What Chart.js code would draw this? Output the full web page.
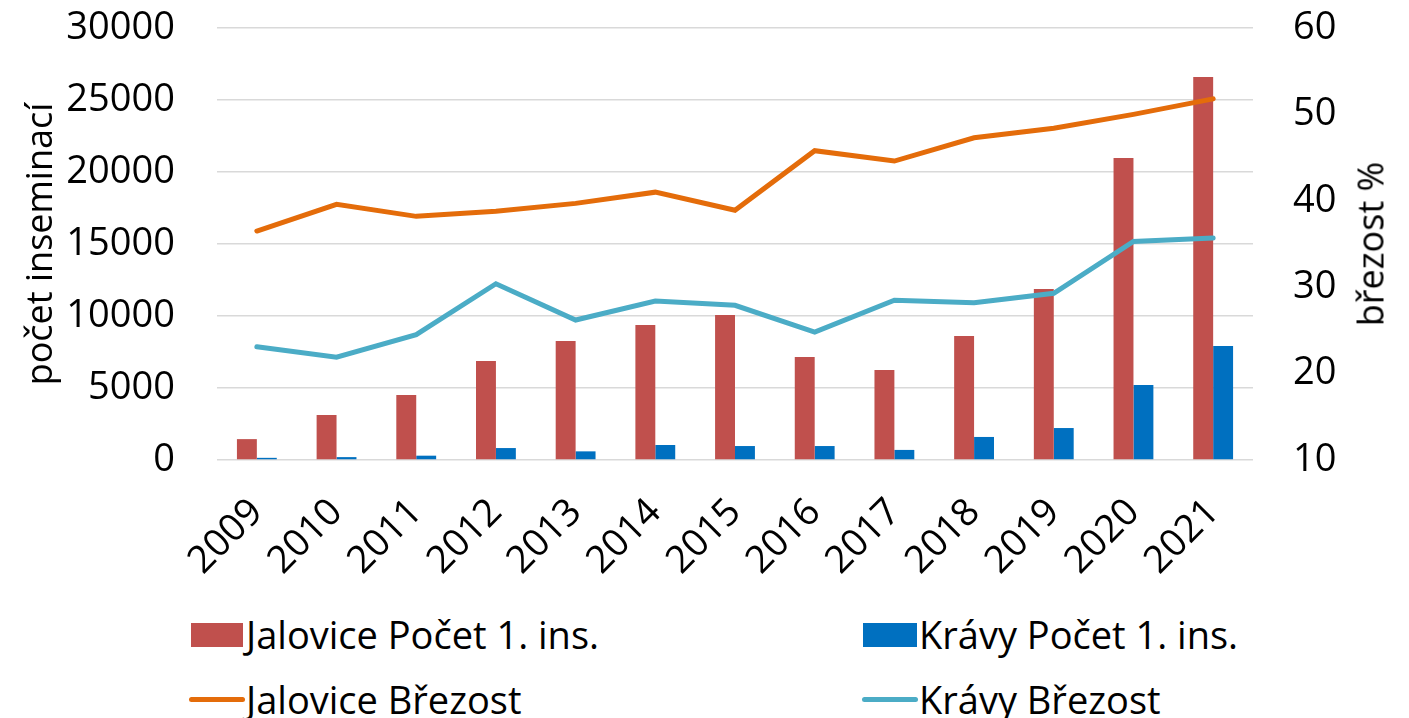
<!DOCTYPE html>
<html>
<head>
<meta charset="utf-8">
<script src="https://cdn.jsdelivr.net/npm/chart.js@4/dist/chart.umd.min.js"></script>
<style>
  html, body { margin: 0; padding: 0; background: #fff; }
  #wrap { position: relative; width: 1409px; height: 718px; overflow: hidden; }
  #box { position: absolute; left: 0; top: 0; width: 1409px; height: 600px; }
  .leg { position: absolute; font-family: "Open Sans", sans-serif; font-size: 38px; color: #000; white-space: nowrap; line-height: 44px; }
  .sw { position: absolute; }
  #rtitle { position: absolute; left: 1370px; top: 244px; font-family: "Open Sans", sans-serif; font-size: 36px; color: #000; white-space: nowrap;
            transform: translate(-50%, -50%) rotate(-90deg); }
</style>
</head>
<body>
<div id="wrap">
  <div id="box"><canvas id="chart"></canvas></div>
  <div id="rtitle">březost %</div>
  <div class="sw" style="left:191px;top:623px;width:52px;height:24px;background:#C0504D"></div>
  <div class="leg" style="left:246px;top:612px">Jalovice Počet 1. ins.</div>
  <div class="sw" style="left:863px;top:623px;width:54px;height:24px;background:#0070C0"></div>
  <div class="leg" style="left:919px;top:612px">Krávy Počet 1. ins.</div>
  <div class="sw" style="left:189px;top:697px;width:56px;height:5px;border-radius:3px;background:#E46C0A"></div>
  <div class="leg" style="left:246px;top:677px">Jalovice Březost</div>
  <div class="sw" style="left:862px;top:697px;width:56px;height:5px;border-radius:3px;background:#4BACC6"></div>
  <div class="leg" style="left:919px;top:677px">Krávy Březost</div>
</div>
<script>
// data
const years = ['2009', '2010', '2011', '2012', '2013', '2014', '2015', '2016', '2017', '2018', '2019', '2020', '2021'];
const jaloviceCount = [1450, 3120, 4520, 6880, 8270, 9380, 10070, 7150, 6250, 8610, 11880, 20970, 26600];
const kravyCount = [150, 200, 300, 830, 600, 1040, 970, 970, 700, 1600, 2220, 5200, 7920];
const jaloviceRate = [36.5, 39.6, 38.2, 38.8, 39.7, 41.0, 38.9, 45.8, 44.6, 47.3, 48.4, 50.0, 51.8];
const kravyRate = [23.1, 21.9, 24.5, 30.4, 26.2, 28.4, 27.9, 24.8, 28.5, 28.2, 29.3, 35.3, 35.7];

const FONT = '"Open Sans", sans-serif';

// drop the extra padding Chart.js reserves for half tick labels
const noPad = s => { s.paddingTop = 0; s.paddingBottom = 0; };

const ctx = document.getElementById('chart').getContext('2d');
new Chart(ctx, {
    type: 'bar',
    data: {
        labels: years,
        datasets: [
            {
                type: 'line',
                label: 'Jalovice Březost',
                data: jaloviceRate,
                yAxisID: 'y1',
                borderColor: '#E46C0A',
                borderWidth: 5,
                pointRadius: 0,
                tension: 0,
                borderCapStyle: 'round',
                order: 0
            },
            {
                type: 'line',
                label: 'Krávy Březost',
                data: kravyRate,
                yAxisID: 'y1',
                borderColor: '#4BACC6',
                borderWidth: 5,
                pointRadius: 0,
                tension: 0,
                borderCapStyle: 'round',
                order: 0
            },
            {
                label: 'Jalovice Počet 1. ins.',
                data: jaloviceCount,
                yAxisID: 'y',
                backgroundColor: '#C0504D',
                barPercentage: 1,
                categoryPercentage: 0.5,
                order: 1
            },
            {
                label: 'Krávy Počet 1. ins.',
                data: kravyCount,
                yAxisID: 'y',
                backgroundColor: '#0070C0',
                barPercentage: 1,
                categoryPercentage: 0.5,
                order: 1
            }
        ]
    },
    options: {
        responsive: true,
        maintainAspectRatio: false,
        animation: false,
        layout: { padding: { left: 20, right: 17, top: 28, bottom: 0 } },
        plugins: {
            legend: { display: false },
            tooltip: { enabled: false }
        },
        scales: {
            x: {
                grid: { display: false, drawTicks: false },
                border: { display: false },
                ticks: {
                    color: '#000',
                    font: { family: FONT, size: 38 },
                    minRotation: 45,
                    maxRotation: 45,
                    padding: 30
                },
                afterFit: s => { s.height = 140; }
            },
            y: {
                position: 'left',
                min: 0,
                max: 30000,
                grid: { color: '#d9d9d9', lineWidth: 1.5, drawTicks: false },
                border: { display: false },
                ticks: {
                    stepSize: 5000,
                    color: '#000',
                    font: { family: FONT, size: 38 },
                    padding: 42,
                    callback: v => String(v)
                },
                title: {
                    display: true,
                    text: 'počet inseminací',
                    color: '#000',
                    font: { family: FONT, size: 36 },
                    padding: 0
                },
                afterFit: s => { s.width = 197; noPad(s); }
            },
            y1: {
                position: 'right',
                min: 10,
                max: 60,
                grid: { display: false, drawTicks: false },
                border: { display: false },
                ticks: {
                    stepSize: 10,
                    color: '#000',
                    font: { family: FONT, size: 38 },
                    padding: 40,
                    callback: v => String(v)
                },
                afterFit: s => { s.width = 139; noPad(s); }
            }
        }
    }
});
</script>
</body>
</html>
